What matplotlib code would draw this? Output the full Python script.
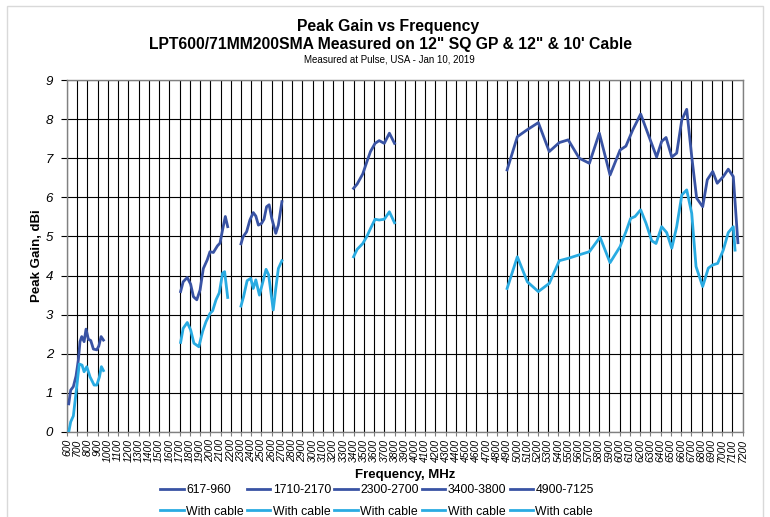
import matplotlib.pyplot as plt
from matplotlib.patches import Rectangle

plt.rcParams['font.family'] = ['Liberation Sans', 'DejaVu Sans']

# band 617-960
f1 = [617, 636, 662, 688, 711, 727, 744, 767, 786, 809, 832, 858, 891, 911, 933, 956]
g1 = [0.72, 1.07, 1.16, 1.43, 1.84, 2.31, 2.44, 2.31, 2.63, 2.37, 2.34, 2.12, 2.10, 2.20, 2.44, 2.35]
f1c = [617, 636, 662, 695, 720, 747, 767, 793, 825, 865, 891, 917, 936, 956]
g1c = [0.00, 0.26, 0.41, 1.16, 1.74, 1.71, 1.54, 1.67, 1.41, 1.20, 1.20, 1.41, 1.67, 1.57]

# band 1710-2170
f2 = [1710, 1735, 1775, 1808, 1835, 1868, 1900, 1932, 1970, 1997, 2030, 2070, 2095, 2120, 2147, 2170]
g2 = [3.59, 3.84, 3.95, 3.78, 3.46, 3.38, 3.63, 4.18, 4.40, 4.61, 4.59, 4.76, 4.83, 5.17, 5.51, 5.25]
f2c = [1710, 1735, 1775, 1808, 1840, 1888, 1925, 1958, 1997, 2023, 2056, 2088, 2120, 2140, 2170]
g2c = [2.29, 2.65, 2.80, 2.61, 2.27, 2.18, 2.57, 2.82, 3.03, 3.10, 3.38, 3.56, 4.06, 4.10, 3.44]

# band 2300-2700
f3 = [2300, 2320, 2355, 2387, 2420, 2445, 2470, 2500, 2525, 2550, 2575, 2600, 2640, 2665, 2700]
g3 = [4.81, 4.99, 5.12, 5.42, 5.61, 5.52, 5.29, 5.33, 5.44, 5.76, 5.81, 5.47, 5.08, 5.29, 5.89]
f3c = [2300, 2325, 2360, 2395, 2420, 2445, 2480, 2510, 2545, 2570, 2600, 2615, 2640, 2665, 2700]
g3c = [3.22, 3.46, 3.87, 3.93, 3.67, 3.89, 3.50, 3.80, 4.16, 4.02, 3.42, 3.12, 3.67, 4.18, 4.38]

# band 3400-3800
f4 = [3400, 3435, 3490, 3530, 3565, 3610, 3650, 3700, 3750, 3800]
g4 = [6.23, 6.34, 6.60, 6.91, 7.17, 7.38, 7.45, 7.38, 7.64, 7.38]
f4c = [3400, 3435, 3490, 3530, 3565, 3610, 3650, 3700, 3750, 3800]
g4c = [4.48, 4.67, 4.82, 5.00, 5.20, 5.44, 5.42, 5.44, 5.63, 5.35]

# band 4900-7125
f5 = [4900, 5000, 5092, 5205, 5312, 5410, 5497, 5605, 5704, 5801, 5906, 6004, 6061,
      6127, 6205, 6280, 6361, 6410, 6453, 6509, 6557, 6607, 6655, 6704, 6752, 6811,
      6856, 6909, 6953, 7012, 7061, 7110, 7155]
g5 = [6.70, 7.55, 7.72, 7.91, 7.17, 7.40, 7.47, 7.00, 6.87, 7.64, 6.57, 7.21, 7.31,
      7.72, 8.13, 7.60, 7.03, 7.43, 7.53, 7.03, 7.13, 7.98, 8.25, 7.04, 5.98, 5.76,
      6.45, 6.66, 6.36, 6.53, 6.72, 6.53, 4.84]
f5c = [4900, 5000, 5098, 5205, 5312, 5410, 5497, 5605, 5704, 5808, 5906, 6004, 6061,
       6107, 6150, 6205, 6257, 6313, 6355, 6410, 6459, 6509, 6557, 6607, 6655, 6704,
       6746, 6811, 6866, 6908, 6957, 7012, 7061, 7110, 7127]
g5c = [3.67, 4.48, 3.84, 3.59, 3.80, 4.38, 4.44, 4.53, 4.61, 4.98, 4.33, 4.74, 5.12,
       5.46, 5.51, 5.68, 5.34, 4.89, 4.82, 5.25, 5.10, 4.70, 5.25, 6.06, 6.19, 5.59,
       4.23, 3.72, 4.19, 4.27, 4.31, 4.65, 5.10, 5.25, 4.65]

band_names = ["617-960", "1710-2170", "2300-2700", "3400-3800", "4900-7125"]
x_ticks = list(range(600, 7201, 100))

dark = "#3953a4"
light = "#29abe2"

fig = plt.figure(figsize=(7.7, 5.17), dpi=100)
fig.patches.append(Rectangle((0.009, -0.02), 0.982, 1.008, transform=fig.transFigure,
                             fill=False, edgecolor="#d9d9d9", linewidth=1))
ax = fig.add_axes([67 / 770, 1 - 432 / 517, (742.5 - 67) / 770, (432 - 80) / 517])

bands = [(f1, g1, f1c, g1c), (f2, g2, f2c, g2c), (f3, g3, f3c, g3c),
         (f4, g4, f4c, g4c), (f5, g5, f5c, g5c)]
for name, (f, g, fc, gc) in zip(band_names, bands):
    ax.plot(f, g, color=dark, lw=2.0, label=name, zorder=3)
    ax.plot(fc, gc, color=light, lw=2.0, label="With cable", zorder=3)

ax.set_xlim(600, 7200)
ax.set_ylim(0, 9)
ax.set_xticks(x_ticks)
ax.set_xticklabels([str(t) for t in x_ticks], rotation=90, fontsize=7.5, fontstyle="italic")
ax.set_yticks(range(0, 10))
ax.set_yticklabels([str(t) for t in range(0, 10)], fontsize=9.5, fontstyle="italic")
ax.tick_params(axis="x", length=3, width=0.8, color="#808080", pad=2)
ax.tick_params(axis="y", length=4, width=0.8, color="black", pad=6)
ax.grid(True, color="black", linewidth=0.8)
ax.set_axisbelow(True)
for s in ax.spines.values():
    s.set_color("#808080")
    s.set_linewidth(1.0)

ax.set_xlabel("Frequency, MHz", fontsize=9.5, fontweight="bold", labelpad=5)
ax.set_ylabel("Peak Gain, dBi", fontsize=9.5, fontweight="bold", labelpad=2)

fig.text(0.504, 1 - 26 / 517, "Peak Gain vs Frequency", ha="center", va="center",
         fontsize=11.3, fontweight="bold")
fig.text(0.507, 1 - 44 / 517, "LPT600/71MM200SMA Measured on 12\" SQ GP & 12\" & 10' Cable",
         ha="center", va="center", fontsize=11.3, fontweight="bold")
fig.text(0.506, 1 - 59 / 517, "Measured at Pulse, USA - Jan 10, 2019", ha="center",
         va="center", fontsize=7)

ax.legend(ncol=5, loc="center", bbox_to_anchor=(377 / 770, 1 - 501 / 517),
          bbox_transform=fig.transFigure, frameon=False, fontsize=8.8,
          handlelength=1.9, handletextpad=0.2, columnspacing=0.28, labelspacing=0.75,
          borderpad=0)

fig.savefig("out.png", dpi=100)
